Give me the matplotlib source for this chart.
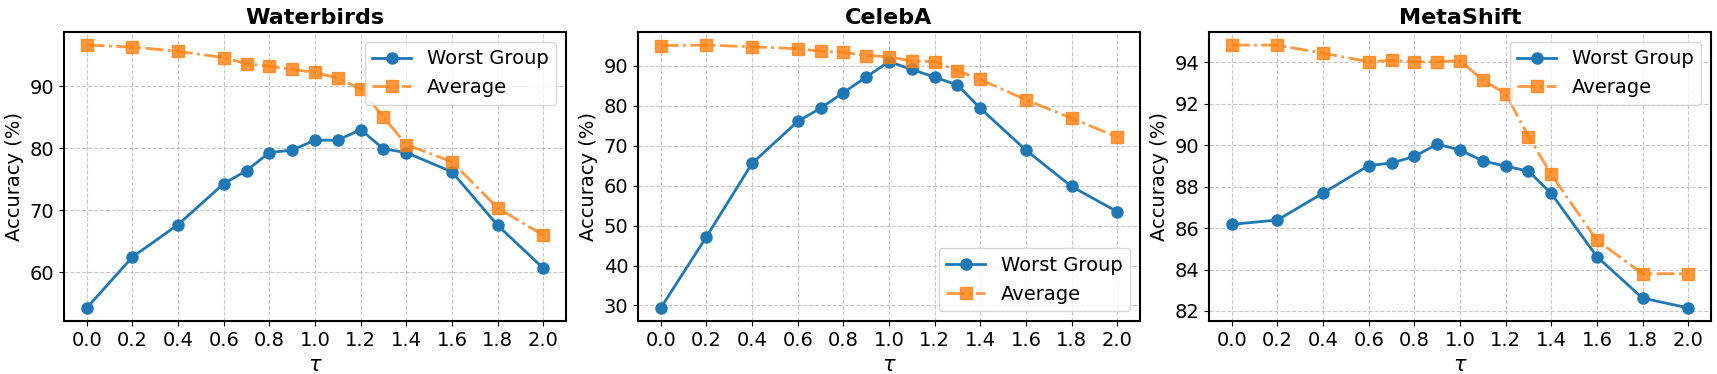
import matplotlib
matplotlib.use("Agg")
import matplotlib.pyplot as plt
from matplotlib.ticker import MultipleLocator

tau = [0.0, 0.2, 0.4, 0.6, 0.7, 0.8, 0.9, 1.0, 1.1, 1.2, 1.3, 1.4, 1.6, 1.8, 2.0]
xticks = [0.0, 0.2, 0.4, 0.6, 0.8, 1.0, 1.2, 1.4, 1.6, 1.8, 2.0]

titles = ["Waterbirds", "CelebA", "MetaShift"]

wb_worst = [54.3, 62.5, 67.7, 74.3, 76.4, 79.3, 79.7, 81.3, 81.3, 83.0, 79.9, 79.3, 76.2, 67.6, 60.7]
wb_avg = [96.6, 96.3, 95.6, 94.6, 93.6, 93.2, 92.7, 92.2, 91.3, 89.5, 85.0, 80.6, 77.8, 70.4, 66.0]

celeba_worst = [29.4, 47.2, 65.6, 76.1, 79.4, 83.3, 87.2, 91.1, 89.1, 87.2, 85.2, 79.4, 68.9, 59.8, 53.5]
celeba_avg = [95.1, 95.2, 94.8, 94.3, 93.7, 93.4, 92.6, 92.3, 91.2, 91.1, 88.8, 86.6, 81.5, 76.9, 72.2]

ms_worst = [86.18, 86.39, 87.69, 89.02, 89.14, 89.46, 90.05, 89.77, 89.24, 88.99, 88.75, 87.67, 84.62, 82.62, 82.15]
ms_avg = [94.83, 94.83, 94.44, 94.03, 94.1, 94.03, 94.03, 94.08, 93.14, 92.49, 90.42, 88.59, 85.41, 83.8, 83.8]

worst = [wb_worst, celeba_worst, ms_worst]
avg = [wb_avg, celeba_avg, ms_avg]
legend_loc = ["upper right", "lower right", "upper right"]
ystep = [10, 10, 2]

fig = plt.figure(figsize=(17.17, 3.74), dpi=100)
lefts = [64, 638, 1209]

for i in range(3):
    ax = fig.add_axes([lefts[i] / 1717, 53 / 374, 502 / 1717, 289 / 374])
    ax.plot(tau, worst[i], "-o", color="#1f77b4", lw=2, ms=8, label="Worst Group")
    ax.plot(tau, avg[i], "-.s", color="#ff7f0e", lw=2, ms=8, alpha=0.8, label="Average")
    ax.set_title(titles[i], fontsize=16, fontweight="bold")
    ax.set_xlabel(r"$\tau$", fontsize=15)
    ax.set_ylabel("Accuracy (%)", fontsize=14)
    ax.set_xticks(xticks)
    ax.yaxis.set_major_locator(MultipleLocator(ystep[i]))
    ax.tick_params(labelsize=14)
    ax.grid(True, linestyle="--", alpha=0.7)
    ax.legend(loc=legend_loc[i], fontsize=14)
    for s in ax.spines.values():
        s.set_linewidth(1.5)

fig.savefig("out.png", dpi=100)
